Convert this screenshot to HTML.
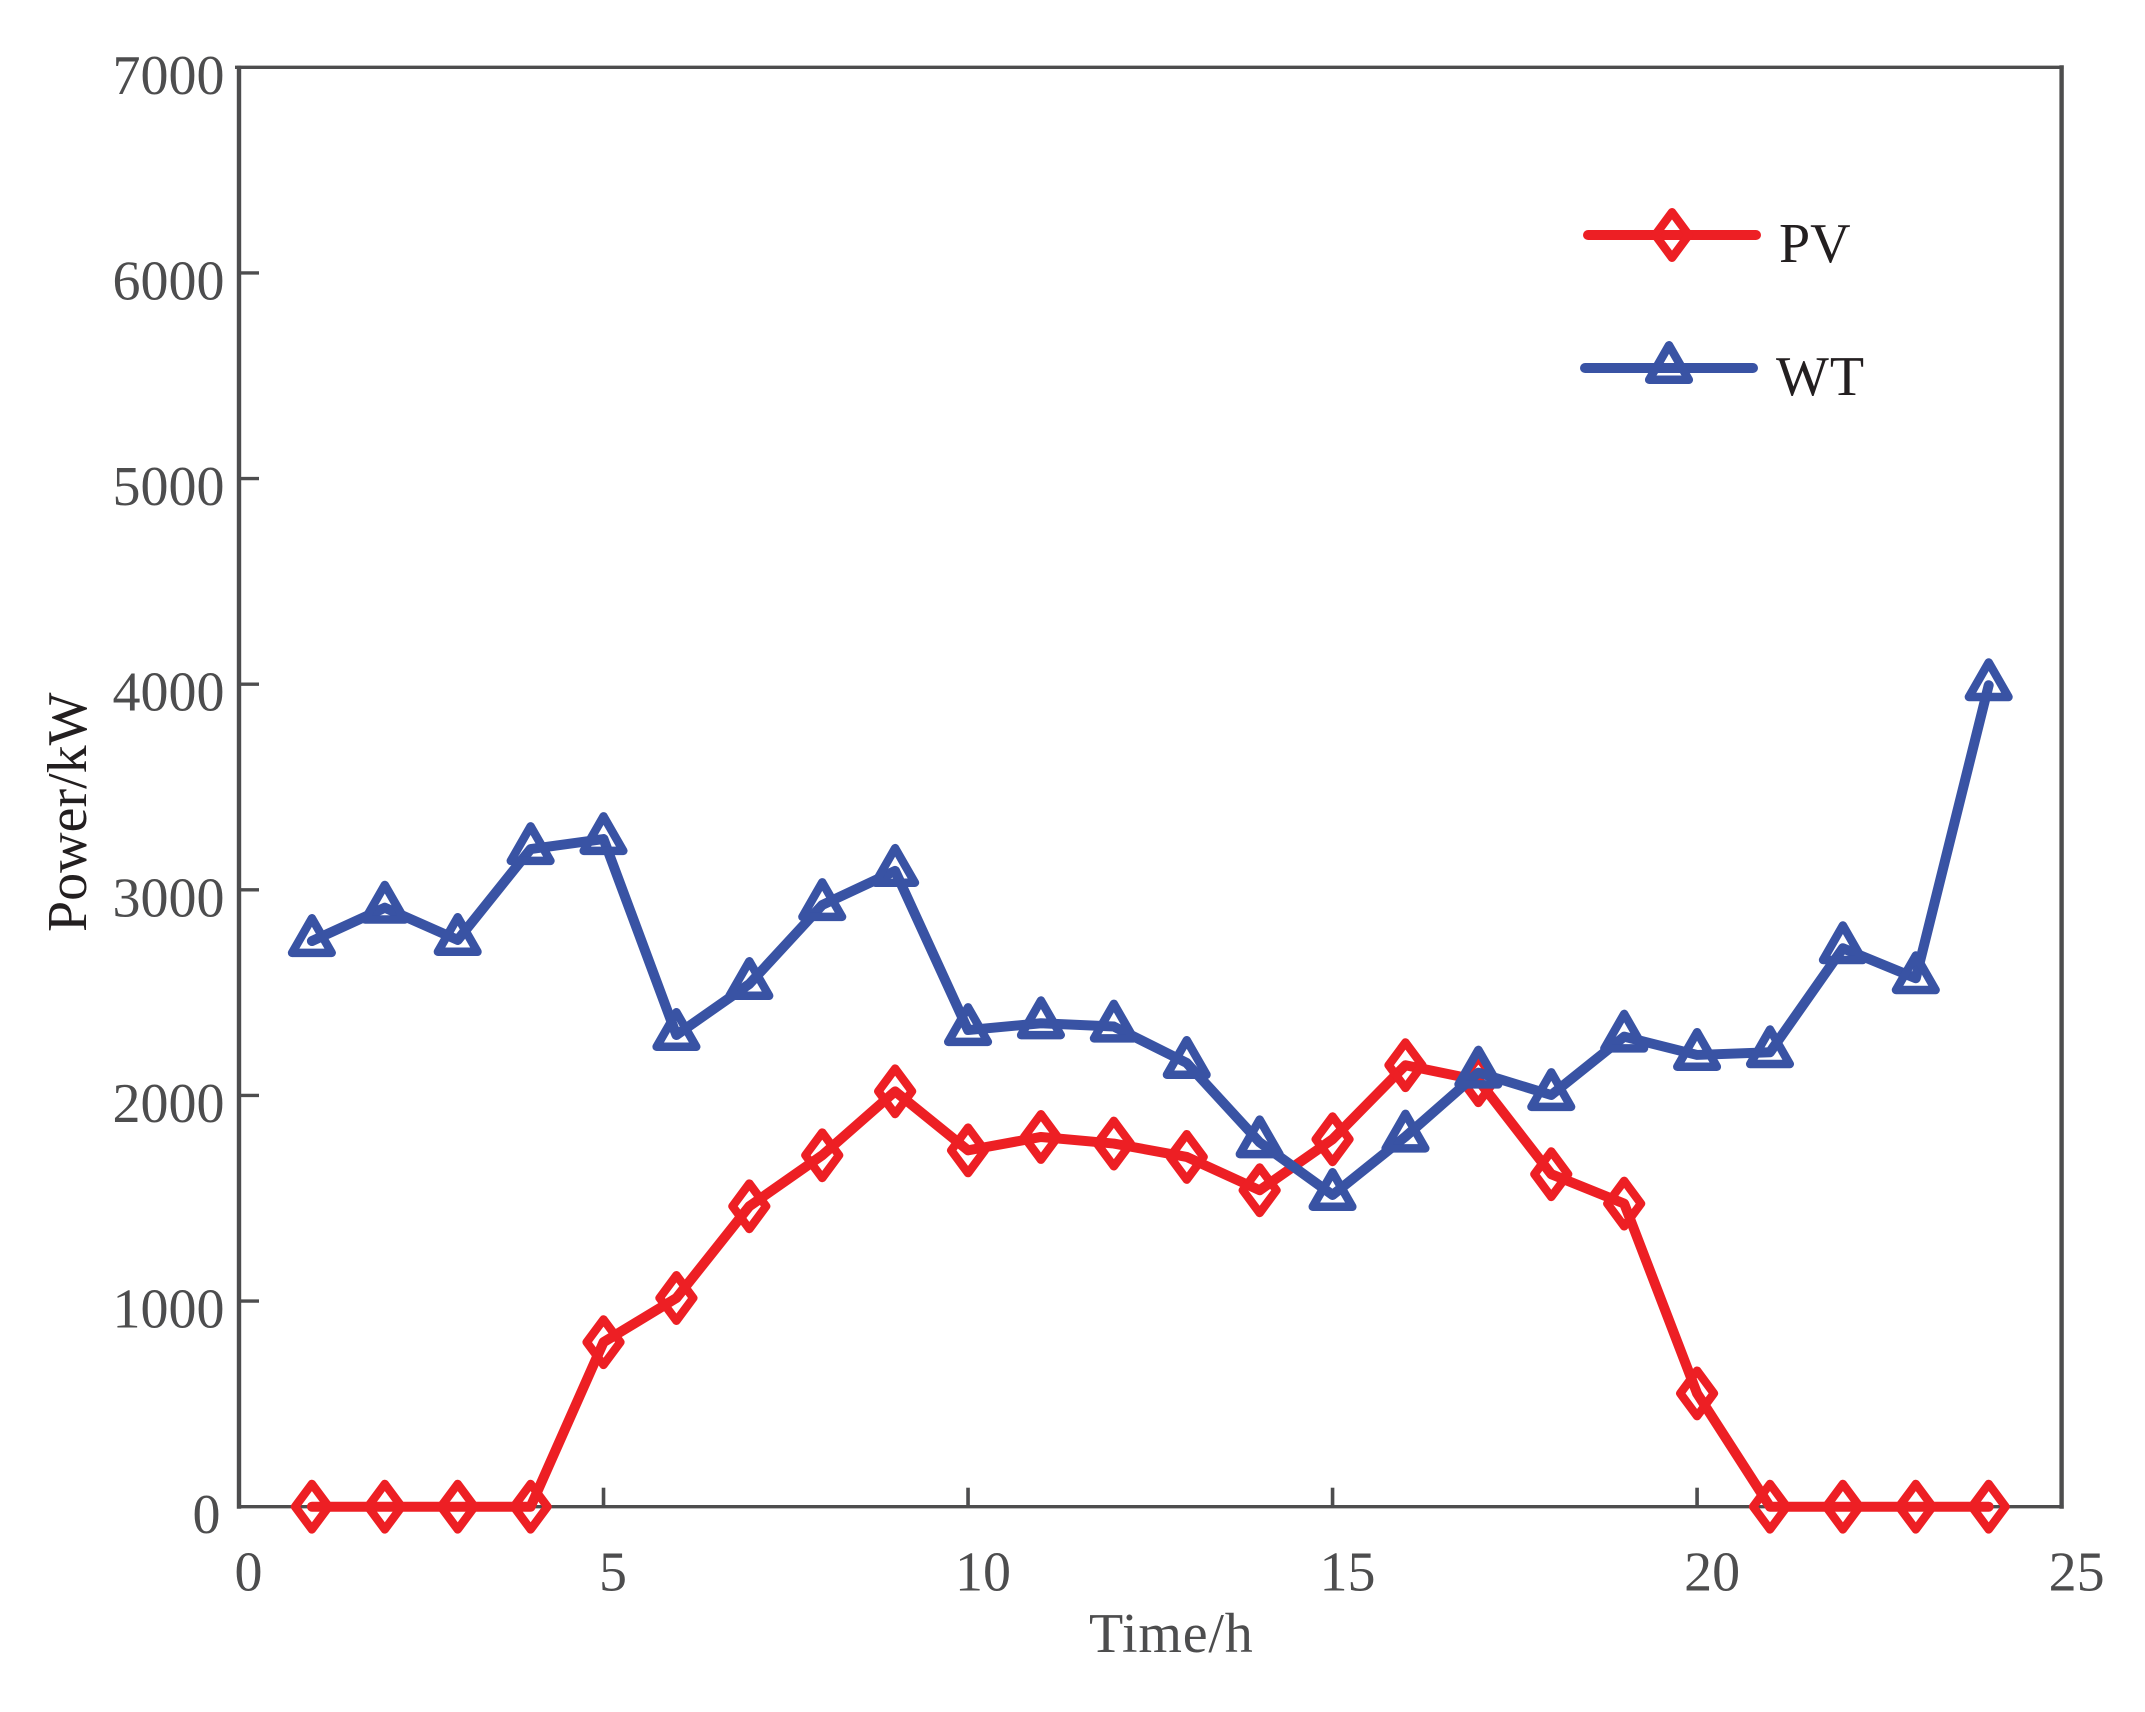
<!DOCTYPE html>
<html lang="en">
<head>
<meta charset="utf-8">
<title>PV and WT power over time</title>
<style>
  html, body { margin: 0; padding: 0; background: #fff; }
  svg { display: block; }
  text { font-family: "Liberation Serif", serif; font-size: 56px; }
  .muted { fill: #4d4d4e; }
  .dark { fill: #231f20; }
</style>
</head>
<body>
<svg id="chart" width="2145" height="1712" viewBox="0 0 2145 1712" xmlns="http://www.w3.org/2000/svg">
  <rect x="0" y="0" width="2145" height="1712" fill="#ffffff"/>
  <g id="axes"></g>
  <g id="series"></g>
  <text class="muted" x="1089" y="1652" style="letter-spacing:0.8px">Time/h</text>
  <text class="dark" transform="translate(86,932) rotate(-90)" x="0" y="0">Power/kW</text>
  <g id="legend">
    <g id="legend-pv">
      <text class="dark" x="1779" y="262">PV</text>
    </g>
    <g id="legend-wt">
      <text class="dark" x="1776" y="395" style="letter-spacing:1px">WT</text>
    </g>
  </g>
</svg>
<script>
const hours = [1, 2, 3, 4, 5, 6, 7, 8, 9, 10, 11, 12, 13, 14, 15, 16, 17, 18, 19, 20, 21, 22, 23, 24];
const pvValues = [0, 0, 0, 0, 800, 1015, 1461, 1709, 2020, 1733, 1798, 1766, 1701, 1539, 1787, 2147, 2074, 1617, 1474, 551, 0, 0, 0, 0];
const wtValues = [2751, 2913, 2756, 3198, 3247, 2294, 2542, 2926, 3092, 2318, 2351, 2335, 2158, 1772, 1516, 1800, 2111, 2002, 2286, 2197, 2210, 2716, 2570, 3995];
const xTicks = [0, 5, 10, 15, 20, 25];
const yTicks = [0, 1000, 2000, 3000, 4000, 5000, 6000, 7000];

const NS = 'http://www.w3.org/2000/svg';
const plot = { left: 239, right: 2061.6, top: 67.3, bottom: 1506.7 };
const xMax = 25;
const yMax = 7000;
const RED = '#ed1f24';
const BLUE = '#3953a4';
const AXIS = '#4d4d4e';
const LINE_WIDTH = 10;
const MARKER_WIDTH = 8.5;

function xScale(v) { return plot.left + (v / xMax) * (plot.right - plot.left); }
function yScale(v) { return plot.bottom - (v / yMax) * (plot.bottom - plot.top); }

function make(tag, attrs, parent) {
  const el = document.createElementNS(NS, tag);
  for (const k in attrs) el.setAttribute(k, attrs[k]);
  parent.appendChild(el);
  return el;
}

function diamondPoints(cx, cy) {
  return [[cx, cy - 22.7], [cx + 16.8, cy], [cx, cy + 22.7], [cx - 16.8, cy]].map(p => p.join(',')).join(' ');
}
function trianglePoints(cx, cy) {
  return [[cx, cy - 22.7], [cx + 19.8, cy + 11.8], [cx - 19.8, cy + 11.8]].map(p => p.join(',')).join(' ');
}

const axes = document.getElementById('axes');
const seriesLayer = document.getElementById('series');

const frameLeft = make('line', { x1: plot.left, y1: plot.top - 1.5, x2: plot.left, y2: plot.bottom + 2, stroke: AXIS, 'stroke-width': 4.4 }, axes);


const frameBottom = make('line', { x1: plot.left, y1: plot.bottom, x2: plot.right + 2, y2: plot.bottom, stroke: AXIS, 'stroke-width': 3.4 }, axes);


const frameTop = make('line', { x1: plot.left - 4, y1: plot.top, x2: plot.right + 2, y2: plot.top, stroke: AXIS, 'stroke-width': 3.4 }, axes);


const frameRight = make('line', { x1: plot.right, y1: plot.top - 2, x2: plot.right, y2: plot.bottom + 2, stroke: AXIS, 'stroke-width': 4.4 }, axes);



xTicks.forEach(function (t) {
  const x = xScale(t);
  if (t !== 0 && t !== xMax) {
    const tick = make('line', { x1: x, y1: plot.bottom, x2: x, y2: plot.bottom - 19, stroke: AXIS, 'stroke-width': 3.6 }, axes);
    
    
  }
  const nudge = t < 10 ? 9.5 : 15;
  const label = make('text', { x: x + nudge, y: 1590.5, 'text-anchor': 'middle', class: 'muted' }, axes);
  label.textContent = String(t);
  
  
});

yTicks.forEach(function (t) {
  const y = yScale(t);
  if (t !== 0 && t !== yMax) {
    const tick = make('line', { x1: plot.left, y1: y, x2: plot.left + 20, y2: y, stroke: AXIS, 'stroke-width': 3.4 }, axes);
    
    
  }
  const label = make('text', { x: t === 0 ? 220.5 : 224.5, y: y + 26.5, 'text-anchor': 'end', class: 'muted' }, axes);
  label.textContent = String(t);
  
  
});

function linePoints(values) {
  return values.map(function (v, i) { return xScale(hours[i]) + ',' + yScale(v); }).join(' ');
}

const pvLine = make('polyline', { points: linePoints(pvValues), fill: 'none', stroke: RED, 'stroke-width': LINE_WIDTH, 'stroke-linejoin': 'round', 'stroke-linecap': 'round' }, seriesLayer);


pvValues.forEach(function (v, i) {
  const m = make('polygon', { points: diamondPoints(xScale(hours[i]), yScale(v)), fill: 'none', stroke: RED, 'stroke-width': MARKER_WIDTH, 'stroke-linejoin': 'round' }, seriesLayer);
  
  
});

const wtLine = make('polyline', { points: linePoints(wtValues), fill: 'none', stroke: BLUE, 'stroke-width': LINE_WIDTH, 'stroke-linejoin': 'round', 'stroke-linecap': 'round' }, seriesLayer);


wtValues.forEach(function (v, i) {
  const m = make('polygon', { points: trianglePoints(xScale(hours[i]), yScale(v)), fill: 'none', stroke: BLUE, 'stroke-width': MARKER_WIDTH, 'stroke-linejoin': 'round' }, seriesLayer);
  
  
});

const legendPv = document.getElementById('legend-pv');
const legendWt = document.getElementById('legend-wt');
const pvKeyLine = make('line', { x1: 1588, y1: 235, x2: 1756, y2: 235, stroke: RED, 'stroke-width': 10, 'stroke-linecap': 'round' }, legendPv);


const pvKeyMark = make('polygon', { points: diamondPoints(1672, 235), fill: 'none', stroke: RED, 'stroke-width': MARKER_WIDTH, 'stroke-linejoin': 'round' }, legendPv);


const wtKeyLine = make('line', { x1: 1585, y1: 368, x2: 1753, y2: 368, stroke: BLUE, 'stroke-width': 10, 'stroke-linecap': 'round' }, legendWt);


const wtKeyMark = make('polygon', { points: trianglePoints(1669, 368), fill: 'none', stroke: BLUE, 'stroke-width': MARKER_WIDTH, 'stroke-linejoin': 'round' }, legendWt);


</script>
</body>
</html>
